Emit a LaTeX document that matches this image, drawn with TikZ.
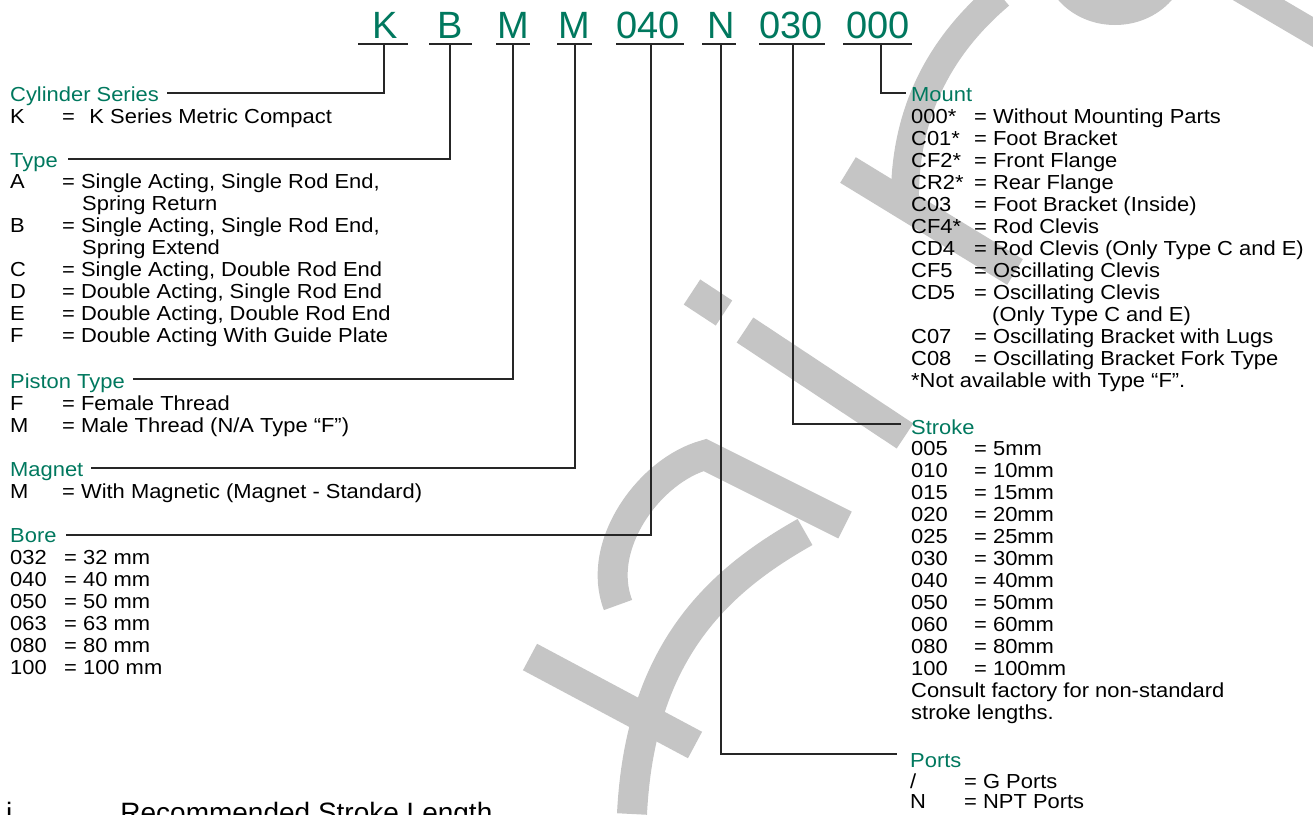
\documentclass[tikz,border=0pt]{standalone}
\usepackage{fontspec}
\setmainfont{Liberation Sans}[FakeStretch=1.08]
\newfontfamily\codefont{Liberation Sans}
\definecolor{hdr}{RGB}{0,120,94}
\definecolor{wmgray}{RGB}{197,197,197}
\begin{document}
\begin{tikzpicture}[x=1pt,y=-1pt,
  txt/.style={anchor=base west, inner sep=0pt, font=\fontsize{20.3}{22}\selectfont},
  hd/.style={txt, text=hdr},
  codeletter/.style={anchor=base, inner sep=0pt, text=hdr, font=\codefont\fontsize{38}{40}\selectfont},
  uline/.style={line width=2.3pt, draw=black!85},
  conn/.style={line width=1.2pt, draw=black!85},
  wm/.style={draw=wmgray, line width=30pt}]
\useasboundingbox (0,0) rectangle (1313,814);

% ---------- watermark (light grey strokes) ----------
\draw[wm] (692,292) -- (724,313);
\draw[wm] (745,330) -- (905,436);
\draw[wm] (848,170) -- (1015,272);
\draw[wm,line width=28pt] (905,205) .. controls (903,120) and (935,50) .. (1000,-5);
\fill[wmgray] (1115,-40) ellipse [x radius=72, y radius=65];
\draw[wm,line width=26pt] (1238,-12) -- (1330,42);
\draw[wm] (845,525) -- (705,455) .. controls (650,470) and (595,545) .. (618,605);
\draw[wm] (805,532) .. controls (720,580) and (640,650) .. (632,814);
\draw[wm] (530,657) -- (695,745);

% ---------- code letters ----------
\node[codeletter] (lK)  at (385,38) {K};
\node[codeletter] (lB)  at (450,38) {B};
\node[codeletter] (lM1) at (513,38) {M};
\node[codeletter] (lM2) at (574,38) {M};
\node[codeletter] (lBo) at (648,38) {040};
\node[codeletter] (lN)  at (721,38) {N};
\node[codeletter] (lSt) at (791,38) {030};
\node[codeletter] (lMo) at (878,38) {000};

\draw[uline] (358,44) -- (408,44);
\draw[uline] (429,44) -- (472,44);
\draw[uline] (496,44) -- (530,44);
\draw[uline] (557,44) -- (592,44);
\draw[uline] (616,44) -- (684,44);
\draw[uline] (702,44) -- (736,44);
\draw[uline] (759,44) -- (825,44);
\draw[uline] (843,44) -- (912,44);

\coordinate (uK)  at (384,44);
\coordinate (uB)  at (450,44);
\coordinate (uM1) at (513,44);
\coordinate (uM2) at (575,44);
\coordinate (uBo) at (651,44);
\coordinate (uN)  at (721,44);
\coordinate (uSt) at (793,44);
\coordinate (uMo) at (881,44);

\coordinate (eCyl) at (167,93);
\coordinate (eTyp) at (68,159);
\coordinate (ePis) at (133,379);
\coordinate (eMag) at (91,468);
\coordinate (eBor) at (66,535);
\coordinate (ePor) at (897,754);
\coordinate (eStr) at (901,424);
\coordinate (eMou) at (906,93);

\draw[conn] (uK) |- (eCyl);
\draw[conn] (uB) |- (eTyp);
\draw[conn] (uM1) |- (ePis);
\draw[conn] (uM2) |- (eMag);
\draw[conn] (uBo) |- (eBor);
\draw[conn] (uN) |- (ePor);
\draw[conn] (uSt) |- (eStr);
\draw[conn] (uMo) |- (eMou);

% ---------- left column ----------
\node[hd] (hCyl) at (10,101) {Cylinder Series};
\node[txt] (cK) at (10,123) {K};
\node[txt] (dK) at (62,123) {=\hspace{14.5pt}K Series Metric Compact};

\node[hd] (hTyp) at (10,167) {Type};
\node[txt] (cA) at (10,188) {A};
\node[txt] (dA) at (62,188) {= Single Acting, Single Rod End,};
\node[txt] (dA2) at (82,210) {Spring Return};
\node[txt] (cB) at (10,232) {B};
\node[txt] (dB) at (62,232) {= Single Acting, Single Rod End,};
\node[txt] (dB2) at (82,254) {Spring Extend};
\node[txt] (cC) at (10,276) {C};
\node[txt] (dC) at (62,276) {= Single Acting, Double Rod End};
\node[txt] (cD) at (10,298) {D};
\node[txt] (dD) at (62,298) {= Double Acting, Single Rod End};
\node[txt] (cE) at (10,320) {E};
\node[txt] (dE) at (62,320) {= Double Acting, Double Rod End};
\node[txt] (cF) at (10,342) {F};
\node[txt] (dF) at (62,342) {= Double Acting With Guide Plate};

\node[hd] (hPis) at (10,388) {Piston Type};
\node[txt] (pF) at (10,410) {F};
\node[txt] (pFd) at (62,410) {= Female Thread};
\node[txt] (pM) at (10,432) {M};
\node[txt] (pMd) at (62,432) {= Male Thread (N/A Type “F”)};

\node[hd] (hMag) at (10,476) {Magnet};
\node[txt] (mM) at (10,498) {M};
\node[txt] (mMd) at (62,498) {= With Magnetic (Magnet - Standard)};

\node[hd] (hBor) at (10,542) {Bore};
\foreach \c/\v [count=\i from 0] in {032/32,040/40,050/50,063/63,080/80,100/100}{
  \node[txt] (bc\i) at (10,564+22*\i) {\c};
  \node[txt] (bd\i) at (64,564+22*\i) {= \v\ mm};
}

% ---------- right column ----------
\node[hd] (hMou) at (911,101) {Mount};
\foreach \c/\d [count=\i from 0] in {000*/Without Mounting Parts,C01*/Foot Bracket,CF2*/Front Flange,CR2*/Rear Flange,C03/Foot Bracket (Inside),CF4*/Rod Clevis,CD4/Rod Clevis (Only Type C and E),CF5/Oscillating Clevis,CD5/Oscillating Clevis}{
  \node[txt] (mc\i) at (911,123+22*\i) {\c};
  \node[txt] (md\i) at (974,123+22*\i) {= \d};
}
\node[txt] (mdx) at (992,321) {(Only Type C and E)};
\node[txt] (mc9) at (911,343) {C07};
\node[txt] (md9) at (974,343) {= Oscillating Bracket with Lugs};
\node[txt] (mc10) at (911,365) {C08};
\node[txt] (md10) at (974,365) {= Oscillating Bracket Fork Type};
\node[txt] (mnote) at (911,387) {*Not available with Type “F”.};

\node[hd] (hStr) at (911,434) {Stroke};
\foreach \c/\v [count=\i from 0] in {005/5,010/10,015/15,020/20,025/25,030/30,040/40,050/50,060/60,080/80,100/100}{
  \node[txt] (sc\i) at (911,455+22*\i) {\c};
  \node[txt] (sd\i) at (974,455+22*\i) {= \v mm};
}
\node[txt] (snote1) at (911,697) {Consult factory for non-standard};
\node[txt] (snote2) at (911,719) {stroke lengths.};

\node[hd] (hPor) at (910,767) {Ports};
\node[txt] (pc1) at (910,788) {/};
\node[txt] (pd1) at (964,788) {= G Ports};
\node[txt] (pc2) at (910,808) {N};
\node[txt] (pd2) at (964,808) {= NPT Ports};

% ---------- bottom (cut-off) title ----------
\node[anchor=base west, inner sep=0pt, font=\codefont\fontsize{28}{30}\selectfont] (tRec) at (6,822) {i\hspace{108pt}Recommended Stroke Length};
\end{tikzpicture}
\end{document}
